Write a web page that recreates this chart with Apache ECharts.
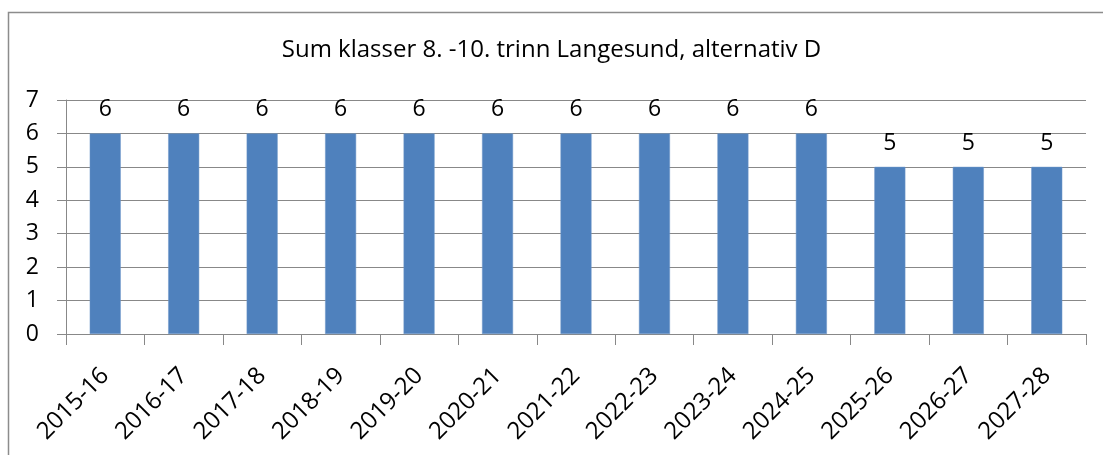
<!DOCTYPE html>
<html>
<head>
<meta charset="utf-8">
<script src="https://cdn.jsdelivr.net/npm/echarts@6/dist/echarts.min.js"></script>
<style>
  html, body { margin: 0; padding: 0; background: #fff; }
  #chart { width: 1103px; height: 455px; }
</style>
</head>
<body>
<div id="chart"></div>
<script>
const title = "Sum klasser 8. -10. trinn Langesund, alternativ D";
const years = ["2015-16", "2016-17", "2017-18", "2018-19", "2019-20", "2020-21", "2021-22",
  "2022-23", "2023-24", "2024-25", "2025-26", "2026-27", "2027-28"];
const classes = [6, 6, 6, 6, 6, 6, 6, 6, 6, 6, 5, 5, 5];

const font = "'Open Sans', sans-serif";
const chart = echarts.init(document.getElementById("chart"));

chart.setOption({
  animation: false,
  // outer chart frame, runs off the right and bottom edge
  graphic: [{
    type: "rect",
    shape: { x: 8.5, y: 12.5, width: 1120, height: 480 },
    style: { fill: "none", stroke: "#8c8c8c", lineWidth: 1.5 },
    silent: true
  }],
  title: {
    text: title,
    left: "center",
    top: 33,
    textStyle: { fontFamily: font, fontSize: 24, fontWeight: "normal", color: "#000" }
  },
  grid: { left: 66, right: 17, top: 100, bottom: 121 },
  xAxis: {
    type: "category",
    data: years,
    axisLine: { lineStyle: { color: "#888", width: 1 } },
    axisTick: { show: true, alignWithLabel: false, length: 11, lineStyle: { color: "#888" } },
    axisLabel: {
      rotate: 45,
      interval: 0,
      fontFamily: font,
      fontSize: 24,
      color: "#000",
      margin: 38
    }
  },
  yAxis: {
    type: "value",
    min: 0,
    max: 7,
    interval: 1,
    axisLine: { show: true, lineStyle: { color: "#888", width: 1 } },
    axisTick: { show: true, length: 9, lineStyle: { color: "#888" } },
    splitLine: { lineStyle: { color: "#888", width: 1 } },
    axisLabel: { fontFamily: font, fontSize: 23, color: "#000", margin: 27 }
  },
  series: [{
    type: "bar",
    data: classes,
    barWidth: 31,
    itemStyle: { color: "#4f81bd", borderColor: "#6f97c8", borderWidth: 0.5 },
    label: {
      show: true,
      position: "top",
      distance: 12,
      fontFamily: font,
      fontSize: 23,
      color: "#000"
    }
  }]
});
</script>
</body>
</html>
